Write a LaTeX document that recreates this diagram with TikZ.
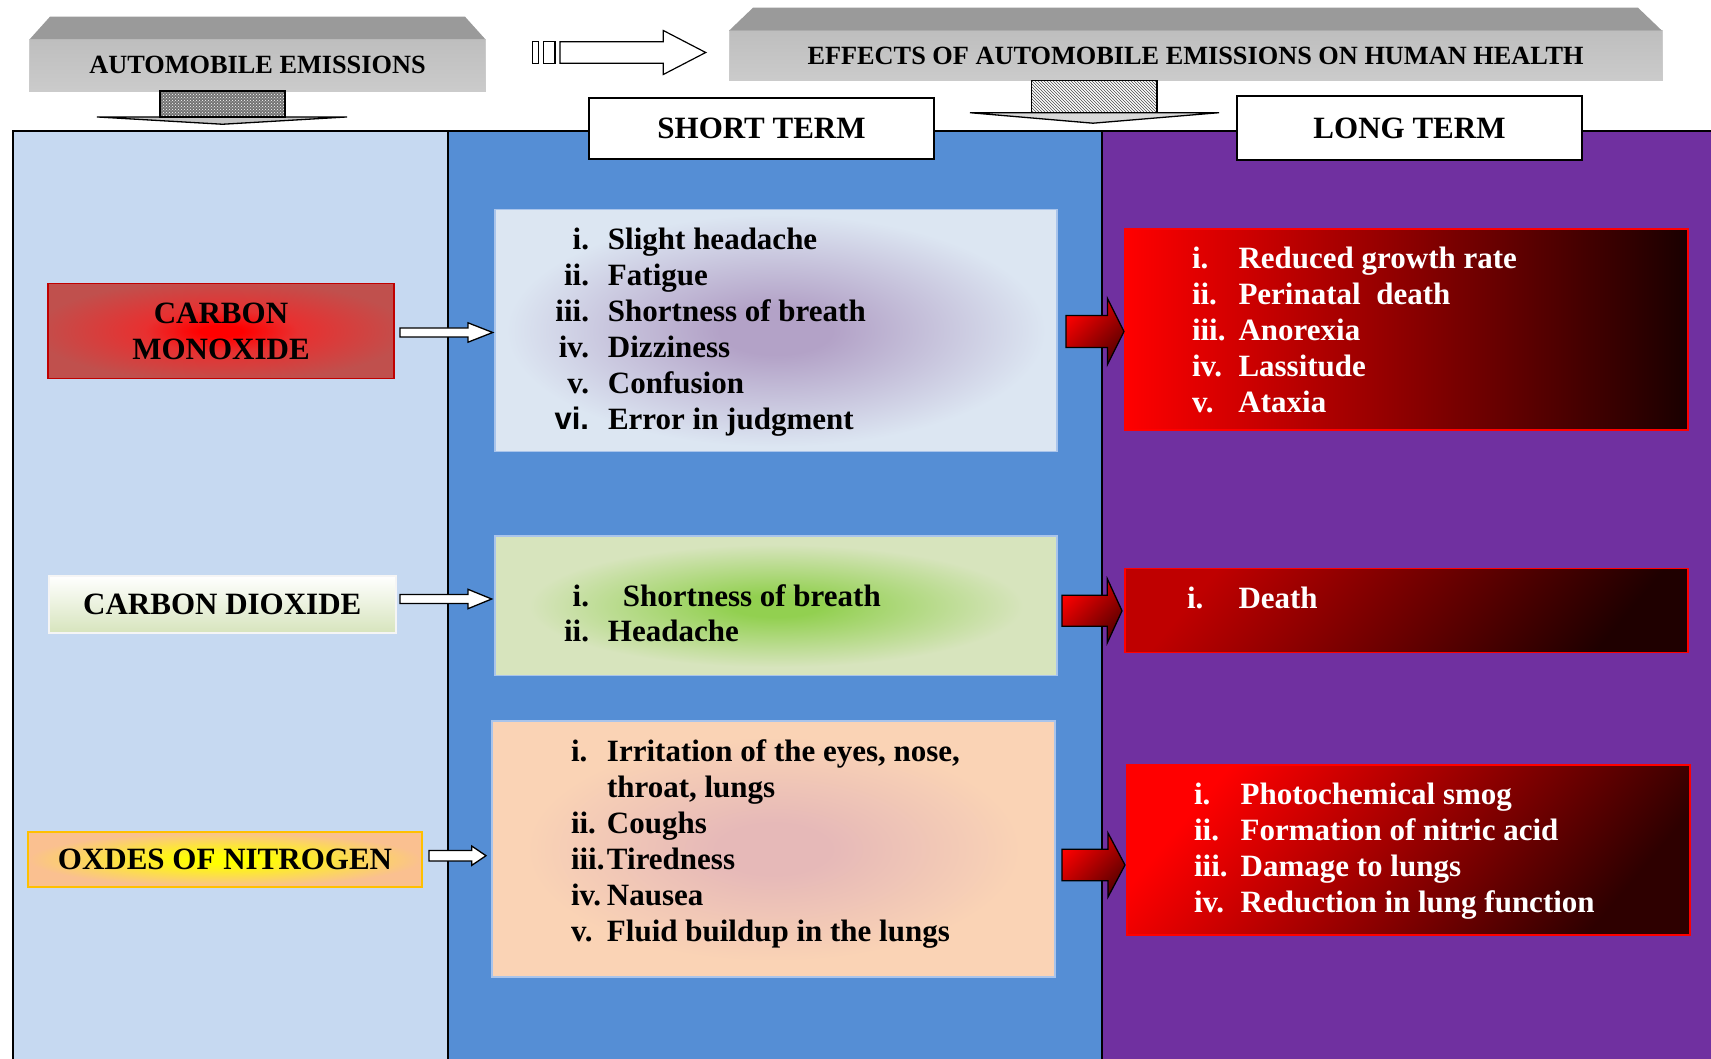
\documentclass[tikz,border=0pt]{standalone}
\usepackage{fontspec}
\setmainfont{Liberation Serif}
\newfontfamily\sansfam{Liberation Sans}
\usetikzlibrary{calc,patterns}
\definecolor{colL}{HTML}{C6D9F1}
\definecolor{colM}{HTML}{558ED5}
\definecolor{colR}{HTML}{7030A0}
\definecolor{gA1}{HTML}{B3A2C7}
\definecolor{gA2}{HTML}{DCE6F2}
\definecolor{gB1}{HTML}{92D050}
\definecolor{gB2}{HTML}{D7E4BD}
\definecolor{gC1}{HTML}{E6B9B8}
\definecolor{gC2}{HTML}{FAD3B5}
\definecolor{coIn}{HTML}{FF0000}
\definecolor{coMid}{HTML}{E83030}
\definecolor{coOut}{HTML}{C0504D}
\definecolor{coBd}{HTML}{C00000}
\definecolor{nIn}{HTML}{FFFF00}
\definecolor{nOut}{HTML}{FAC090}
\definecolor{nBd}{HTML}{FFC000}
\definecolor{stBd}{HTML}{A9C4EB}
\definecolor{hdTop}{HTML}{9A9A9A}
\definecolor{hdF1}{HTML}{BEBEBE}
\definecolor{hdF2}{HTML}{CBCBCB}
\pgfdeclareradialshading{glowA}{\pgfpointorigin}{color(0bp)=(gA1); color(5bp)=(gA1); color(24bp)=(gA2); color(50bp)=(gA2)}
\pgfdeclareradialshading{glowB}{\pgfpointorigin}{color(0bp)=(gB1); color(4bp)=(gB1); color(22bp)=(gB2); color(50bp)=(gB2)}
\pgfdeclareradialshading{glowC}{\pgfpointorigin}{color(0bp)=(gC1); color(5bp)=(gC1); color(22bp)=(gC2); color(50bp)=(gC2)}
\pgfdeclareradialshading{glowCO}{\pgfpointorigin}{color(0bp)=(coIn); color(3bp)=(coIn); color(11bp)=(coMid); color(27bp)=(coOut); color(50bp)=(coOut)}
\pgfdeclareradialshading{glowN}{\pgfpointorigin}{color(0bp)=(nIn); color(4bp)=(nIn); color(25bp)=(nOut); color(50bp)=(nOut)}
\newcommand\rline[4]{\makebox[#1pt][r]{#2}\hspace{#3pt}#4\strut}
\newcommand\lline[3]{\makebox[#1pt][l]{#2}#3\strut}
\newcommand\harrow[6]{%
  \path[#1] let \p1=#2, \p2=#3 in
    ({\x1},{\y1+#4pt}) -- ({\x2-#6pt},{\y1+#4pt}) -- ({\x2-#6pt},{\y1+#5pt}) --
    ({\x2},{\y1}) -- ({\x2-#6pt},{\y1-#5pt}) -- ({\x2-#6pt},{\y1-#4pt}) --
    ({\x1},{\y1-#4pt}) -- cycle;}
\tikzset{
  big/.style={font=\bfseries\fontsize{31}{36}\selectfont},
  hdrtxt/.style={font=\bfseries\fontsize{26.3}{30}\selectfont},
  box/.style={rectangle, inner sep=0pt, outer sep=0pt},
  list/.style={big, align=left, anchor=north west, inner sep=0pt, outer sep=0pt},
  whitearrow/.style={draw=black, fill=white, line width=1.3pt},
  redarrow/.style={draw=black, line width=1.3pt, top color=red, bottom color=red!35!black, shading angle=45},
  hdrbox/.style={box, top color=hdF1, bottom color=hdF2, draw=hdF2, line width=0.8pt, hdrtxt},
  hdrtop/.style={fill=hdTop},
  termbox/.style={box, fill=white, draw=black, line width=1.3pt, big},
  stbox/.style={box, draw=stBd, line width=1.5pt, shade},
  ltbox/.style={box, draw=red, line width=1.5pt},
}
\begin{document}
\begin{tikzpicture}[x=1pt,y=-1pt]
\useasboundingbox (0,0) rectangle (1711,1059);
% background columns
\fill[colL] (13,131) rectangle (447.5,1059);
\fill[colM] (447.5,131) rectangle (1102,1059);
\fill[colR] (1102,131) rectangle (1711,1059);
\draw[line width=2pt] (13,1059) -- (13,131) -- (1711,131);
\draw[line width=2pt] (447.5,131) -- (447.5,1059);
\draw[line width=2pt] (1102,131) -- (1102,1059);

% header 1
\node[hdrbox, minimum width=456pt, minimum height=51.5pt] (hdr1) at (257.5,65.2) {AUTOMOBILE EMISSIONS};
\fill[hdrtop] (hdr1.north west) -- ++(20.5,-22.8) -- ($(hdr1.north east)+(-20.5,-22.8)$) -- (hdr1.north east) -- cycle;
% header 2
\node[hdrbox, minimum width=933pt, minimum height=50pt] (hdr2) at (1195.5,55.7) {EFFECTS OF AUTOMOBILE EMISSIONS ON HUMAN HEALTH};
\fill[hdrtop] (hdr2.north west) -- ++(24,-23) -- ($(hdr2.north east)+(-24,-23)$) -- (hdr2.north east) -- cycle;

% striped arrow between headers
\coordinate (sa) at (532.7,52.5);
\draw[whitearrow, line width=1.2pt] (sa) ++(0,-10.8) rectangle ++(5.6,21.6);
\draw[whitearrow, line width=1.2pt] ($(sa)+(10.6,-10.8)$) rectangle ++(11.7,21.6);
\draw[whitearrow, line width=1.2pt] ($(sa)+(27.3,-10.8)$) -- ++(103.3,0) -- ++(0,-11.2) -- ($(sa)+(173,0)$)
   -- ($(sa)+(130.6,22)$) -- ++(0,-11.2) -- ($(sa)+(27.3,10.8)$) -- cycle;

% down arrow 1
\filldraw[fill=gray!45, draw=black, line width=1.3pt] ($(hdr1.south)+(-160.5,26)$) -- ($(hdr1.south)+(89.5,26)$) -- ($(hdr1.south)+(-35,33.3)$) -- cycle;
\fill[gray!90!black] ($(hdr1.south)+(-97.5,0)$) rectangle ($(hdr1.south)+(27.5,26)$);
\draw[pattern=crosshatch dots, pattern color=white, line width=1.2pt] ($(hdr1.south)+(-97.5,0)$) rectangle ($(hdr1.south)+(27.5,26)$);
% down arrow 2
\filldraw[fill=gray!30, draw=black, line width=1.3pt] ($(hdr2.south)+(-225.5,32)$) -- ($(hdr2.south)+(23.5,32)$) -- ($(hdr2.south)+(-102.5,42.5)$) -- cycle;
\fill[white] ($(hdr2.south)+(-163.8,0)$) rectangle ($(hdr2.south)+(-38.5,32)$);
\draw[pattern=north west lines, pattern color=gray!60!black, line width=1.2pt] ($(hdr2.south)+(-163.8,0)$) rectangle ($(hdr2.south)+(-38.5,32)$);

% term labels
\node[termbox, minimum width=345pt, minimum height=61pt] (stl) at (761.5,128.5) {SHORT TERM};
\node[termbox, minimum width=345pt, minimum height=64pt] (ltl) at (1409.5,128) {LONG TERM};

% emission boxes
\node[box, draw=coBd, line width=1.5pt, shade, shading=glowCO, minimum width=346pt, minimum height=95pt, big, align=center] (co) at (221,331) {CARBON\\MONOXIDE};
\node[box, draw=white!92!gray, line width=2pt, top color=white, bottom color=gB2, minimum width=346.7pt, minimum height=56.7pt, big] (co2) at (222.3,604.3) {CARBON DIOXIDE};
\node[box, draw=nBd, line width=2pt, shade, shading=glowN, minimum width=393.4pt, minimum height=54.7pt, big] (nox) at (225,859.3) {OXDES OF NITROGEN};

% short term boxes
\node[stbox, shading=glowA, minimum width=562pt, minimum height=242pt] (st1) at (776,330.6) {};
\node[stbox, shading=glowB, minimum width=562pt, minimum height=139.5pt] (st2) at (776,605.8) {};
\node[stbox, shading=glowC, minimum width=563pt, minimum height=256pt] (st3) at (773.5,849) {};

% long term boxes
\node[ltbox, left color=red, right color=red!10!black, minimum width=563pt, minimum height=201pt] (lt1) at (1406.5,329.5) {};
\node[ltbox, top color=red!75!black, bottom color=red!12!black, shading angle=50, minimum width=563pt, minimum height=84pt] (lt2) at (1406.5,610.5) {};
\node[ltbox, top color=red, bottom color=red!18!black, shading angle=50, minimum width=563pt, minimum height=170pt] (lt3) at (1408.5,850) {};

% short term texts
\node[list] (st1t) at (529,223.8) {\rline{60}{i.}{19}{Slight headache}\\
\rline{60}{ii.}{19}{Fatigue}\\
\rline{60}{iii.}{19}{Shortness of breath}\\
\rline{60}{iv.}{19}{Dizziness}\\
\rline{60}{v.}{19}{Confusion}\\
\rline{60}{{\sansfam\bfseries vi.}}{19}{Error in judgment}};
\node[list, font=\bfseries\fontsize{31}{35}\selectfont] (st2t) at (529,581.5) {\rline{60}{i.}{34}{Shortness of breath}\\
\rline{60}{ii.}{19}{Headache}};
\node[list] (st3t) at (571,735.8) {\lline{36}{i.}{Irritation of the eyes, nose,}\\
\lline{36}{}{throat, lungs}\\
\lline{36}{ii.}{Coughs}\\
\lline{36}{iii.}{Tiredness}\\
\lline{36}{iv.}{Nausea}\\
\lline{36}{v.}{Fluid buildup in the lungs}};

% long term texts
\node[list, text=white] (lt1t) at (1192,242.8) {\lline{46.5}{i.}{Reduced growth rate}\\
\lline{46.5}{ii.}{Perinatal\ \ death}\\
\lline{46.5}{iii.}{Anorexia}\\
\lline{46.5}{iv.}{Lassitude}\\
\lline{46.5}{v.}{Ataxia}};
\node[list, text=white] (lt2t) at (1187,582.8) {\lline{51.5}{i.}{Death}};
\node[list, text=white] (lt3t) at (1194,778.8) {\lline{46.7}{i.}{Photochemical smog}\\
\lline{46.7}{ii.}{Formation of nitric acid}\\
\lline{46.7}{iii.}{Damage to lungs}\\
\lline{46.7}{iv.}{Reduction in lung function}};

% white arrows
\harrow{whitearrow}{($(co.east)+(6,1.5)$)}{($(st1.west)+(-2.3,0)$)}{4.5}{9.7}{24.7}
\harrow{whitearrow}{($(co2.east)+(4.3,-5.3)$)}{($(st2.west)+(-3.3,0)$)}{4.5}{9.7}{23.7}
\harrow{whitearrow}{($(nox.east)+(7.3,-3.6)$)}{($(st3.west)+(-6,0)$)}{5.2}{9.7}{14.3}

% red arrows
\harrow{redarrow}{($(st1.east)+(9,0.9)$)}{($(lt1.west)+(-1,0)$)}{16}{33}{16.5}
\harrow{redarrow}{($(st2.east)+(5,5)$)}{($(lt2.west)+(-3,0)$)}{15.5}{32}{14.7}
\harrow{redarrow}{($(st3.east)+(7,16)$)}{($(lt3.west)+(-2,0)$)}{15.7}{32}{17}
\end{tikzpicture}
\end{document}
